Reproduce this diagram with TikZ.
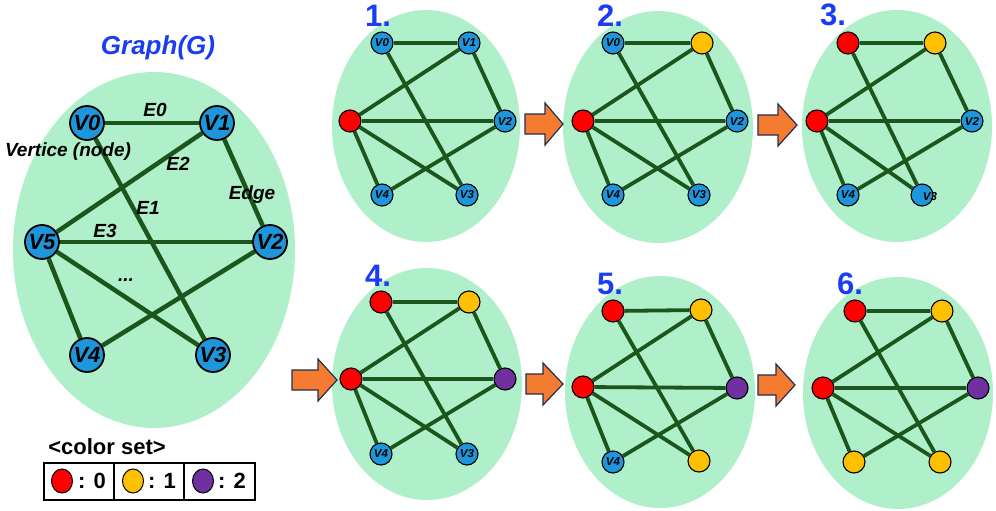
\documentclass[tikz,border=0pt]{standalone}
\usepackage{fontspec}
\setmainfont{Liberation Sans}
\usetikzlibrary{shapes.geometric}
\definecolor{bgreen}{HTML}{AFEFC9}
\definecolor{egreen}{HTML}{1C561C}
\definecolor{nblue}{HTML}{1E96DC}
\definecolor{tblue}{HTML}{1A3CF5}
\definecolor{cred}{HTML}{FF0000}
\definecolor{cyel}{HTML}{FFC000}
\definecolor{cpur}{HTML}{7030A0}
\definecolor{aorange}{HTML}{F47B30}
\definecolor{anavy}{HTML}{203050}
\pgfdeclarelayer{bg}
\pgfdeclarelayer{edges}
\pgfsetlayers{bg,edges,main}
\newcommand{\fs}[1]{\fontsize{#1}{#1}\selectfont}
\newcommand{\blockarr}[4]{%
  \draw[blockarrow] (#1,#4-10) -- (#2,#4-10) -- (#2,#4-21) -- (#3,#4) -- (#2,#4+21) -- (#2,#4+10) -- (#1,#4+10) -- cycle;}
\newcommand{\sedges}[1]{%
  \begin{pgfonlayer}{edges}
  \draw[sedge] (#1a) -- (#1b);
  \draw[sedge] (#1a) -- (#1d);
  \draw[sedge] (#1b) -- (#1f);
  \draw[sedge] (#1b) -- (#1c);
  \draw[sedge] (#1f) -- (#1c);
  \draw[sedge] (#1f) -- (#1d);
  \draw[sedge] (#1f) -- (#1e);
  \draw[sedge] (#1e) -- (#1c);
  \end{pgfonlayer}}
\begin{document}
\begin{tikzpicture}[x=1pt,y=-1pt,
  bignode/.style={circle,draw=black,line width=1.8pt,fill=nblue,minimum size=34pt,inner sep=0pt,font=\fs{22}\bfseries\itshape},
  snode/.style={circle,draw=black,line width=1.1pt,minimum size=22pt,inner sep=0pt,font=\fs{11.5}\bfseries\itshape},
  sb/.style={snode,fill=nblue},
  sr/.style={snode,fill=cred},
  sy/.style={snode,fill=cyel},
  sp/.style={snode,fill=cpur},
  bedge/.style={draw=egreen,line width=4.5pt},
  sedge/.style={draw=egreen,line width=3.8pt},
  elabel/.style={font=\fs{19}\bfseries\itshape},
  stepnum/.style={font=\fs{31}\bfseries,text=tblue,inner sep=0pt},
  gellipse/.style={fill=bgreen},
  blockarrow/.style={fill=aorange,draw=anavy,line width=1.2pt,line join=miter},
  legnode/.style={ellipse,draw=black,line width=1pt,minimum width=21pt,minimum height=24pt,inner sep=0pt},
  legtext/.style={font=\fs{22}\bfseries}
]
\useasboundingbox (0,0) rectangle (996,511);

\begin{pgfonlayer}{bg}
\fill[gellipse] (154,250) ellipse [x radius=141, y radius=178];
\fill[gellipse] (426,126) ellipse [x radius=94, y radius=116];
\fill[gellipse] (658,127) ellipse [x radius=95, y radius=116];
\fill[gellipse] (897,126) ellipse [x radius=95, y radius=116];
\fill[gellipse] (427,384) ellipse [x radius=95, y radius=116];
\fill[gellipse] (660,392) ellipse [x radius=95, y radius=116];
\fill[gellipse] (898,393) ellipse [x radius=95, y radius=116];
\end{pgfonlayer}

% ---------------- main graph ----------------
\node[font=\fs{26}\bfseries\itshape,text=tblue] (title) at (158,48) {Graph(G)};

\node[bignode] (ma) at (87,123) {V0};
\node[bignode] (mb) at (217,123) {V1};
\node[bignode] (mf) at (42,242) {V5};
\node[bignode] (mc) at (270,242) {V2};
\node[bignode] (me) at (87,355) {V4};
\node[bignode] (md) at (213,355) {V3};
\begin{pgfonlayer}{edges}
\draw[bedge] (ma) -- (mb);
\draw[bedge] (ma) -- (md);
\draw[bedge] (mb) -- (mf);
\draw[bedge] (mb) -- (mc);
\draw[bedge] (mf) -- (mc);
\draw[bedge] (mf) -- (md);
\draw[bedge] (mf) -- (me);
\draw[bedge] (me) -- (mc);
\end{pgfonlayer}

\node[elabel] (lE0) at (155,110) {E0};
\node[elabel] (lvert) at (68,152) {Vertice (node)};
\node[elabel] (lE2) at (178,164) {E2};
\node[elabel] (lE1) at (148,208) {E1};
\node[elabel] (ledge) at (252,195) {Edge};
\node[elabel] (lE3) at (105,231) {E3};
\node[elabel] (ldots) at (126,280) {...};

% ---------------- legend ----------------
\node[font=\fs{22}\bfseries] (lcs) at (107,447) {<color set>};
\draw[line width=1.1pt] (44,463) rectangle (255,500);
\draw[line width=1.1pt] (114,463) -- (114,500);
\draw[line width=1.1pt] (184,463) -- (184,500);
\node[legnode,fill=cred] (lg0) at (62,481) {};
\node[legnode,fill=cyel] (lg1) at (133,481) {};
\node[legnode,fill=cpur] (lg2) at (203,481) {};
\node[legtext] (lt0) at (92,481) {: 0};
\node[legtext] (lt1) at (162,481) {: 1};
\node[legtext] (lt2) at (232,481) {: 2};

% ---------------- graph 1 ----------------
\node[stepnum] (n1) at (378,16) {1.};
\node[sb] (1a) at (382,43) {V0};
\node[sb] (1b) at (469,43) {V1};
\node[sr] (1f) at (350,121) {};
\node[sb] (1c) at (505,121) {V2};
\node[sb] (1e) at (382,195) {V4};
\node[sb] (1d) at (467,195) {V3};
\sedges{1}

% ---------------- graph 2 ----------------
\node[stepnum] (n2) at (610,16) {2.};
\node[sb] (2a) at (613,43) {V0};
\node[sy] (2b) at (702,43) {};
\node[sr] (2f) at (583,121) {};
\node[sb] (2c) at (737,121) {V2};
\node[sb] (2e) at (613,195) {V4};
\node[sb] (2d) at (699,195) {V3};
\sedges{2}

% ---------------- graph 3 ----------------
\node[stepnum] (n3) at (833,15) {3.};
\node[sr] (3a) at (848,43) {};
\node[sy] (3b) at (935,43) {};
\node[sr] (3f) at (817,121) {};
\node[sb] (3c) at (972,121) {V2};
\node[sb] (3e) at (848,195) {V4};
\node[sb] (3d) at (922,195) {};
\node[font=\fs{11.5}\bfseries\itshape] (3dl) at (930,197) {V3};
\sedges{3}

% ---------------- graph 4 ----------------
\node[stepnum] (n4) at (378,276) {4.};
\node[sr] (4a) at (381,302) {};
\node[sy] (4b) at (469,302) {};
\node[sr] (4f) at (351,379) {};
\node[sp] (4c) at (505,379) {};
\node[sb] (4e) at (381,454) {V4};
\node[sb] (4d) at (467,454) {V3};
\sedges{4}

% ---------------- graph 5 ----------------
\node[stepnum] (n5) at (610,284) {5.};
\node[sr] (5a) at (613,311) {};
\node[sy] (5b) at (701,310) {};
\node[sr] (5f) at (583,387) {};
\node[sp] (5c) at (737,388) {};
\node[sb] (5e) at (613,462) {V4};
\node[sy] (5d) at (699,461) {};
\sedges{5}

% ---------------- graph 6 ----------------
\node[stepnum] (n6) at (850,284) {6.};
\node[sr] (6a) at (855,311) {};
\node[sy] (6b) at (942,311) {};
\node[sr] (6f) at (823,388) {};
\node[sp] (6c) at (978,388) {};
\node[sy] (6e) at (854,462) {};
\node[sy] (6d) at (940,462) {};
\sedges{6}

% ---------------- block arrows ----------------
\blockarr{525}{545}{563}{124}
\blockarr{758}{778}{797}{125}
\blockarr{292}{318}{337}{380}
\blockarr{526}{543}{563}{384}
\blockarr{758}{776}{795}{385}
\end{tikzpicture}
\end{document}
